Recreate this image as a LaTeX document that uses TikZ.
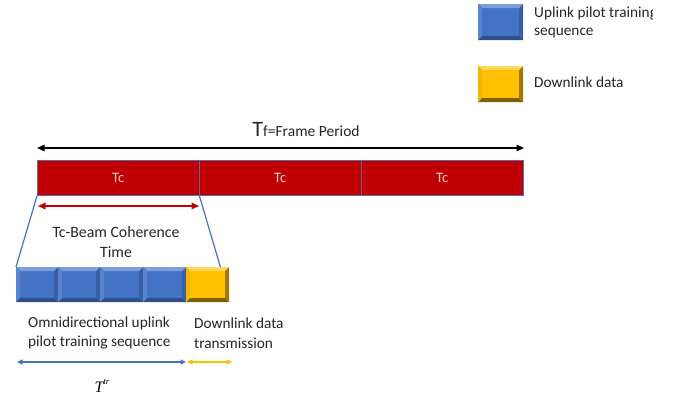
\documentclass[tikz,border=0pt]{standalone}
\usepackage{fontspec}
\setmainfont{Carlito}
\newfontfamily\serifface{Liberation Serif}
\usetikzlibrary{arrows.meta}

\definecolor{barred}{HTML}{C00000}
\definecolor{tclabel}{HTML}{F6CFCF}
\definecolor{bface}{HTML}{4472C4}
\definecolor{btop}{HTML}{7E9DDA}
\definecolor{bleft}{HTML}{5B83CD}
\definecolor{bbot}{HTML}{2F4F8A}
\definecolor{bright}{HTML}{3860A6}
\definecolor{yface}{HTML}{FFC000}
\definecolor{ytop}{HTML}{FFD85A}
\definecolor{yleft}{HTML}{F2B600}
\definecolor{ybot}{HTML}{7F6000}
\definecolor{yright}{HTML}{A07A00}
\definecolor{divline}{HTML}{5A66B0}

\tikzset{
  bevel/.style n args={5}{
    fill=#1, inner sep=0pt, anchor=north west,
    path picture={
      \fill[#2] (path picture bounding box.north west) -- (path picture bounding box.north east)
        -- ([shift={(-4pt,-4pt)}]path picture bounding box.north east)
        -- ([shift={(4pt,-4pt)}]path picture bounding box.north west) -- cycle;
      \fill[#3] (path picture bounding box.north west) -- ([shift={(4pt,-4pt)}]path picture bounding box.north west)
        -- ([shift={(4pt,4pt)}]path picture bounding box.south west)
        -- (path picture bounding box.south west) -- cycle;
      \fill[#4] (path picture bounding box.south west) -- (path picture bounding box.south east)
        -- ([shift={(-4pt,4pt)}]path picture bounding box.south east)
        -- ([shift={(4pt,4pt)}]path picture bounding box.south west) -- cycle;
      \fill[#5] (path picture bounding box.north east) -- (path picture bounding box.south east)
        -- ([shift={(-4pt,4pt)}]path picture bounding box.south east)
        -- ([shift={(-4pt,-4pt)}]path picture bounding box.north east) -- cycle;
    }},
  bluebox/.style={bevel={bface}{btop}{bleft}{bbot}{bright}},
  yellowbox/.style={bevel={yface}{ytop}{yleft}{ybot}{yright}},
  cell/.style={fill=barred, draw=divline, line width=0.4pt, inner sep=0pt,
    minimum width=162pt, minimum height=35pt, anchor=north west,
    text=tclabel, font=\fontsize{14.5}{16}\selectfont},
  label/.style={inner sep=0pt, align=left, font=\fontsize{15.3}{19.5}\selectfont, text=black!85},
  dbl/.style={{Triangle[length=7.5pt,width=6.5pt]}-{Triangle[length=7.5pt,width=6.5pt]}, line width=1.4pt},
  dblsmall/.style={{Triangle[length=5.5pt,width=5pt]}-{Triangle[length=5.5pt,width=5pt]}, line width=1.3pt},
}

\begin{document}
\begin{tikzpicture}[x=1pt,y=-1pt]
\useasboundingbox[fill=white] (0,0) rectangle (678,403);

% legend
\node[bluebox, minimum width=45pt, minimum height=36pt] (legblue) at (478,4) {};
\node[yellowbox, minimum width=45pt, minimum height=36pt] (legyellow) at (478,66) {};
\begin{scope}
  \clip (0,0) rectangle (652,403);
  \node[label, anchor=west, font=\fontsize{15.3}{18.5}\selectfont] (legbluetext) at (534,22.5) {Uplink pilot training\\sequence};
\end{scope}
\node[label, anchor=west] (legyellowtext) at (534,82) {Downlink data};

% frame of three coherence intervals
\node[cell] (c1) at (37,160.5) {Tc};
\node[cell] (c2) at (199,160.5) {Tc};
\node[cell] (c3) at (361,160.5) {Tc};

\coordinate (fl) at (37,148);
\coordinate (fr) at (524,148);
\draw[dbl] (fl) -- (fr);
\node[inner sep=0pt, text=black!85, anchor=base] (tf) at (306,137)
  {{\fontsize{22}{22}\selectfont T}{\fontsize{15.5}{16}\selectfont f=Frame Period}};

% coherence interval expanded
\coordinate (rl) at (38,206);
\coordinate (rr) at (199,206);
\draw[dbl, barred, line width=1.5pt] (rl) -- (rr);
\node[label, align=center, font=\fontsize{15.8}{20}\selectfont] (coh) at (116,242) {Tc-Beam Coherence\\Time};

\node[bluebox, minimum width=42pt, minimum height=35pt] (p1) at (16,267) {};
\node[bluebox, minimum width=42pt, minimum height=35pt] (p2) at (58,267) {};
\node[bluebox, minimum width=43pt, minimum height=35pt] (p3) at (100,267) {};
\node[bluebox, minimum width=43pt, minimum height=35pt] (p4) at (143,267) {};
\node[yellowbox, minimum width=43pt, minimum height=35pt] (d1) at (186,267) {};

\coordinate (zr) at ([xshift=-9pt]d1.north east);
\draw[bface, line width=1.2pt] (c1.south west) -- (p1.north west);
\draw[bface, line width=1.2pt] (c1.south east) -- (zr);

% captions
\node[label, anchor=west] (omni) at (28,333) {Omnidirectional uplink\\pilot training sequence};
\node[label, anchor=west] (dl) at (194,333) {Downlink data\\transmission};

\coordinate (bl) at (17,362);
\coordinate (bm) at (186,362);
\coordinate (ym) at (187,362);
\coordinate (yr) at (232,362);
\draw[dblsmall, bface] (bl) -- (bm);
\draw[dblsmall, yface] (ym) -- (yr);

\node[inner sep=0pt] (ttr) at (102,386)
  {\serifface\fontsize{16}{18}\selectfont\itshape T\raisebox{0.45em}{\fontsize{9}{10}\selectfont tr}};
\end{tikzpicture}
\end{document}
